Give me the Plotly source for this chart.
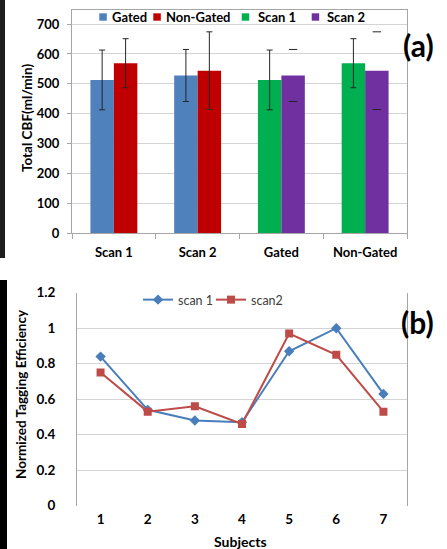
import plotly.graph_objects as go

W, H = 447, 549

# ---------------- Panel (a) data ----------------
categories_a = ["Scan 1", "Scan 2", "Gated", "Non-Gated"]
gated_vals = [513, 528]        # at Scan 1, Scan 2
gated_err = [100, 87]
nongated_vals = [569, 544]     # at Scan 1, Scan 2
nongated_err = [82, 130]
scan1_vals = [513, 569]        # at Gated, Non-Gated
scan1_err = [100, 82]
scan2_vals = [528, 544]        # at Gated, Non-Gated
scan2_err = [87, 130]
yticks_a = [0, 100, 200, 300, 400, 500, 600, 700]
legend_a = ["Gated", "Non-Gated", "Scan 1", "Scan 2"]

# ---------------- Panel (b) data ----------------
subjects = [1, 2, 3, 4, 5, 6, 7]
scan1_eff = [0.84, 0.54, 0.48, 0.47, 0.87, 1.00, 0.63]
scan2_eff = [0.75, 0.53, 0.56, 0.46, 0.97, 0.85, 0.53]
yticks_b = [0, 0.2, 0.4, 0.6, 0.8, 1.0, 1.2]
yticklabels_b = ["0", "0.2", "0.4", "0.6", "0.8", "1", "1.2"]

BLUE, RED, GREEN, PURPLE = "#4F81BD", "#C00000", "#00B050", "#7030A0"
LBLUE, LRED = "#4A7EBB", "#BE4B48"
FRAME = "#A6A6A6"
GRID = "#D4D4D4"
ERR = "#262626"
FONT = "Lato"


def px(x):
    return x / W


def py(y):
    return 1 - y / H


BW = 0.28
first_pos = [0, 1]
second_pos = [2, 3]

fig = go.Figure()


def err(arr):
    return dict(type="data", array=arr, color=ERR, thickness=1, width=3)


fig.add_trace(go.Bar(x=first_pos, y=gated_vals, width=BW, offset=-BW, marker_color=BLUE,
                     error_y=err(gated_err), name=legend_a[0], showlegend=False,
                     xaxis="x", yaxis="y"))
fig.add_trace(go.Bar(x=first_pos, y=nongated_vals, width=BW, offset=0, marker_color=RED,
                     error_y=err(nongated_err), name=legend_a[1], showlegend=False,
                     xaxis="x", yaxis="y"))
fig.add_trace(go.Bar(x=second_pos, y=scan1_vals, width=BW, offset=-BW, marker_color=GREEN,
                     error_y=err(scan1_err), name=legend_a[2], showlegend=False,
                     xaxis="x", yaxis="y"))
fig.add_trace(go.Bar(x=second_pos, y=scan2_vals, width=BW, offset=0, marker_color=PURPLE,
                     name=legend_a[3], showlegend=False, xaxis="x", yaxis="y"))
# Scan 2 error bars appear only as caps in the original
cap_x = [p + BW / 2 for p in second_pos] * 2
cap_y = [v + e for v, e in zip(scan2_vals, scan2_err)] + [v - e for v, e in zip(scan2_vals, scan2_err)]
fig.add_trace(go.Scatter(x=cap_x, y=cap_y, mode="markers", showlegend=False, hoverinfo="skip",
                         marker=dict(symbol="line-ew", size=6, color=ERR, line=dict(width=1, color=ERR)),
                         xaxis="x", yaxis="y"))

# Panel (b)
fig.add_trace(go.Scatter(x=subjects, y=scan1_eff, mode="lines+markers", name="scan 1",
                         line=dict(color=LBLUE, width=2),
                         marker=dict(symbol="diamond", size=8, color=LBLUE),
                         xaxis="x2", yaxis="y2", legend="legend"))
fig.add_trace(go.Scatter(x=subjects, y=scan2_eff, mode="lines+markers", name="scan2",
                         line=dict(color=LRED, width=2),
                         marker=dict(symbol="square", size=8, color=LRED),
                         xaxis="x2", yaxis="y2", legend="legend2"))

tickfont_a = dict(family=FONT, size=13, color="#000000", weight="bold")
tickfont_b = dict(family=FONT, size=13.5, color="#000000", weight="bold")

shapes = []
annotations = []

# custom legend for panel (a)
leg_sq_x = [99.3, 153.3, 241.7, 311.7]
leg_tx_x = [110.5, 165.0, 256.5, 325.5]
for name, col, sx, tx in zip(legend_a, [BLUE, RED, GREEN, PURPLE], leg_sq_x, leg_tx_x):
    shapes.append(dict(type="rect", xref="paper", yref="paper", x0=px(sx), x1=px(sx + 7.5),
                       y0=py(20.7), y1=py(13.3), fillcolor=col, line=dict(width=0)))
    annotations.append(dict(text=name, xref="paper", yref="paper", x=px(tx - 1), y=py(17),
                            xanchor="left", yanchor="middle", showarrow=False,
                            font=dict(family=FONT, size=13, color="#000000", weight="bold")))

# dark strips at the left edge
shapes.append(dict(type="rect", xref="paper", yref="paper", x0=0, x1=px(5), y0=py(258), y1=1,
                   fillcolor="#1E1E1E", line=dict(width=0)))
shapes.append(dict(type="rect", xref="paper", yref="paper", x0=0, x1=px(7), y0=0, y1=py(280),
                   fillcolor="#000000", line=dict(width=0)))

annotations += [
    dict(text="(a)", xref="paper", yref="paper", x=px(418), y=py(45), showarrow=False,
         xanchor="center", yanchor="middle", font=dict(family=FONT, size=30, color="#000", weight="bold")),
    dict(text="(b)", xref="paper", yref="paper", x=px(417), y=py(322), showarrow=False,
         xanchor="center", yanchor="middle", font=dict(family=FONT, size=30, color="#000", weight="bold")),
    dict(text="Total CBF(ml/min)", xref="paper", yref="paper", x=px(27), y=py(118), textangle=-90,
         showarrow=False, xanchor="center", yanchor="middle",
         font=dict(family=FONT, size=13.5, color="#000", weight="bold")),
    dict(text="Normized Tagging Efficiency", xref="paper", yref="paper", x=px(21), y=py(394),
         textangle=-90, showarrow=False, xanchor="center", yanchor="middle",
         font=dict(family=FONT, size=13.5, color="#000", weight="bold")),
    dict(text="Subjects", xref="paper", yref="paper", x=px(240), y=py(541), showarrow=False,
         xanchor="center", yanchor="middle", font=dict(family=FONT, size=14, color="#000", weight="bold")),
]

legfont = dict(family=FONT, size=12.5, color="#404040")

fig.update_layout(
    width=W, height=H,
    margin=dict(l=0, r=0, t=0, b=0),
    template="none",
    paper_bgcolor="white", plot_bgcolor="white",
    barmode="overlay",
    font=dict(family=FONT),
    shapes=shapes,
    annotations=annotations,
    xaxis=dict(domain=[px(72), px(407)], range=[-0.5, 3.5], anchor="y",
               tickmode="array", tickvals=[0, 1, 2, 3], ticktext=categories_a,
               ticks="", showline=True, linecolor=FRAME, linewidth=1, mirror=True,
               showgrid=False, zeroline=False, tickfont=tickfont_a, automargin=False,
               ticklabelstandoff=7,
               minor=dict(tickmode="array", tickvals=[-0.5, 0.5, 1.5, 2.5, 3.5], ticks="outside",
                          ticklen=5, tickcolor=FRAME, showgrid=False)),
    yaxis=dict(domain=[py(233.3), py(10)], range=[0, 747], anchor="x",
               tickmode="array", tickvals=yticks_a, ticks="outside", ticklen=4, tickcolor=FRAME,
               showline=True, linecolor=FRAME, linewidth=1, mirror=True,
               showgrid=True, gridcolor=GRID, zeroline=False, tickfont=tickfont_a,
               automargin=False, ticklabelstandoff=5),
    xaxis2=dict(domain=[px(77), px(407)], range=[0.5, 7.5], anchor="y2",
                tickmode="array", tickvals=subjects, ticks="", showline=False,
                showgrid=False, zeroline=False, tickfont=tickfont_b, automargin=False,
                ticklabelstandoff=4),
    yaxis2=dict(domain=[py(505.7), py(292.7)], range=[0, 1.2], anchor="x2",
                tickmode="array", tickvals=yticks_b, ticktext=yticklabels_b, ticks="",
                showline=True, linecolor=FRAME, linewidth=1, mirror=True,
                showgrid=True, gridcolor=GRID, zeroline=True, zerolinecolor="white",
                zerolinewidth=2, tickfont=tickfont_b, automargin=False, ticklabelstandoff=18),
    legend=dict(orientation="h", x=px(138), y=py(300), xanchor="left", yanchor="middle",
                font=legfont, bgcolor="rgba(0,0,0,0)", itemwidth=30),
    legend2=dict(orientation="h", x=px(211), y=py(300), xanchor="left", yanchor="middle",
                 font=legfont, bgcolor="rgba(0,0,0,0)", itemwidth=30),
    showlegend=True,
)

fig.write_html("out.html", config={"displayModeBar": False},
               post_script="document.body.style.margin='0';document.body.style.overflow='hidden';")
